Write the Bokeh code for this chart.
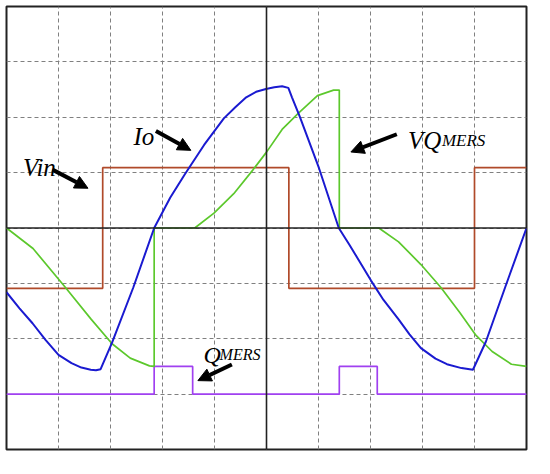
from bokeh.plotting import figure
from bokeh.models import FixedTicker, Span, Label, Arrow, NormalHead, Range1d
from bokeh.embed import file_html
from bokeh.resources import INLINE

# ---- data (divisions of the scope screen) ----
vin_x = [0, 1.85, 1.85, 5.43, 5.43, 9.0, 9.0, 10]
vin_y = [-1.09, -1.09, 1.09, 1.09, -1.09, -1.09, 1.09, 1.09]

io_x = [0, 0.25, 0.5, 0.75, 1.0, 1.25, 1.44, 1.62, 1.72, 1.81, 2.03, 2.44, 2.84,
        3.15, 3.43, 3.8, 4.18, 4.4, 4.61, 4.8, 4.99, 5.15, 5.3, 5.42, 5.49, 5.64,
        6.01, 6.39, 6.6, 7.01, 7.25, 7.54, 7.75, 7.97, 8.25, 8.47, 8.75, 8.97,
        9.22, 9.59, 10.0]
io_y = [-1.16, -1.45, -1.72, -2.02, -2.29, -2.44, -2.52, -2.56, -2.57, -2.55, -2.07,
        -1.07, 0.0, 0.55, 0.97, 1.5, 1.98, 2.18, 2.36, 2.46, 2.51, 2.54, 2.56, 2.53,
        2.36, 2.01, 1.08, 0.0, -0.31, -0.95, -1.3, -1.65, -1.92, -2.17, -2.36,
        -2.46, -2.53, -2.56, -2.05, -1.07, 0.0]

vq_x = [0, 0.51, 1.13, 1.63, 2.03, 2.38, 2.75, 2.84, 2.84, 3.62, 3.99, 4.37, 4.74,
        5.0, 5.3, 5.61, 5.98, 6.29, 6.4, 6.4, 7.16, 7.54, 7.97, 8.35, 8.72, 9.03,
        9.34, 9.71, 10.0]
vq_y = [0, -0.37, -1.07, -1.65, -2.09, -2.35, -2.49, -2.5, 0, 0, 0.27, 0.62, 1.05,
        1.37, 1.78, 2.07, 2.39, 2.49, 2.49, 0, 0, -0.25, -0.66, -1.07, -1.53, -1.94,
        -2.23, -2.46, -2.5]

q_x = [0, 2.84, 2.84, 3.58, 3.58, 6.4, 6.4, 7.13, 7.13, 10]
q_y = [-3.0, -3.0, -2.5, -2.5, -3.0, -3.0, -2.5, -2.5, -3.0, -3.0]

x_div = list(range(0, 11))
y_div = list(range(-4, 5))

p = figure(frame_width=520, frame_height=443, x_range=Range1d(0, 10),
           y_range=Range1d(-4, 4), output_backend="svg", toolbar_location=None,
           min_border_left=6, min_border_top=6, min_border_right=8,
           min_border_bottom=9)
p.xaxis.visible = False
p.yaxis.visible = False
p.xgrid.ticker = FixedTicker(ticks=x_div)
p.ygrid.ticker = FixedTicker(ticks=y_div)
for g in (p.xgrid, p.ygrid):
    g.grid_line_color = "#808080"
    g.grid_line_dash = "4 3"
    g.grid_line_width = 1
p.outline_line_color = "#222222"
p.outline_line_width = 2
p.background_fill_color = "white"
p.border_fill_color = "white"

p.add_layout(Span(location=5, dimension="height", line_color="#222222", line_width=1.6))
p.add_layout(Span(location=0, dimension="width", line_color="#222222", line_width=1.6))

p.line(vin_x, vin_y, line_color="#b04a2a", line_width=1.7)
p.line(q_x, q_y, line_color="#a040f0", line_width=1.7)
p.line(vq_x, vq_y, line_color="#5cc82c", line_width=1.7)
p.line(io_x, io_y, line_color="#1a1ad0", line_width=2)

font = "Liberation Serif"
def lab(x, y, t, size, dx=0):
    p.add_layout(Label(x=x, y=y, text=t, text_font=font, text_font_style="italic",
                       text_font_size=size, text_color="black", x_offset=dx,
                       text_baseline="alphabetic"))

lab(0.317, 1.089, "Vin", "25px")
lab(2.44, 1.66, "Io", "25px")
lab(7.72, 1.577, "VQ", "25px", 0)
lab(7.72, 1.577, "MERS", "17px", 34)
lab(3.79, -2.29, "Q", "24px", 0)
lab(3.79, -2.29, "MERS", "16px", 16)

def arrow(x0, y0, x1, y1):
    p.add_layout(Arrow(end=NormalHead(size=13, fill_color="black", line_color="black"),
                       x_start=x0, y_start=y0, x_end=x1, y_end=y1,
                       line_color="black", line_width=4))

arrow(0.883, 1.054, 1.567, 0.718)
arrow(2.873, 1.751, 3.545, 1.402)
arrow(7.506, 1.693, 6.623, 1.373)
arrow(4.334, -2.465, 3.681, -2.756)

open("out.html", "w").write(file_html(p, INLINE))
